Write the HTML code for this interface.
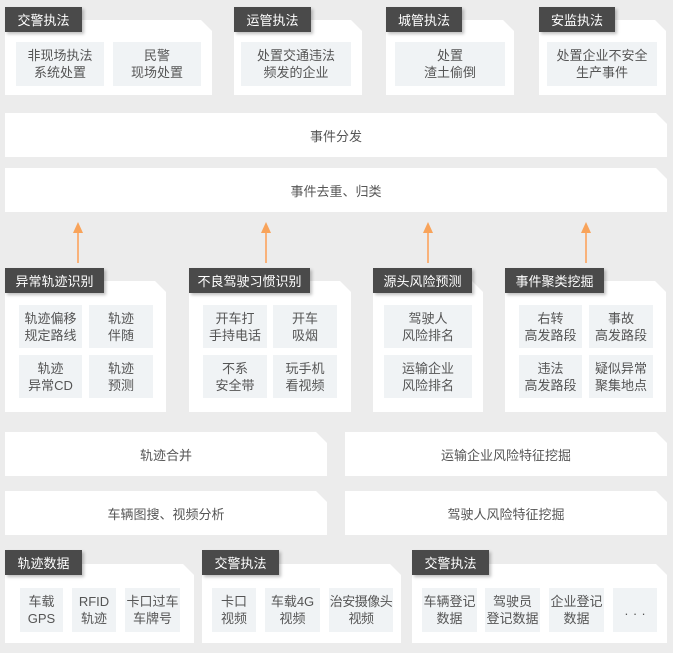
<!DOCTYPE html>
<html><head><meta charset="utf-8"><style>
*{margin:0;padding:0;box-sizing:border-box}
body{width:673px;height:653px;background:#ececec;position:relative;overflow:hidden;font-family:"Liberation Sans","Noto Sans CJK SC",sans-serif;color:#555;font-size:13px}
.p{position:absolute;background:#fff;clip-path:polygon(0 0,calc(100% - 11px) 0,100% 11px,100% 100%,0 100%)}
.r{position:absolute;background:#fff;clip-path:polygon(0 0,calc(100% - 11px) 0,100% 11px,100% 100%,0 100%);display:flex;align-items:center;justify-content:center;font-size:13px;color:#555}
.t{position:absolute;background:#4a4a4a;color:#fff;font-size:13px;display:flex;align-items:center;justify-content:center;height:25px;box-shadow:2px 2px 3px rgba(0,0,0,0.25);white-space:nowrap}
.c{position:absolute;background:#f0f3f5;display:flex;align-items:center;justify-content:center;text-align:center;line-height:17px;font-size:13px;color:#555;white-space:nowrap}
.a{position:absolute;width:2px;background:#f9b27a}
.h{position:absolute;width:0;height:0;border-left:5px solid transparent;border-right:5px solid transparent;border-bottom:11px solid #f8a35a}
</style></head><body>
<!-- top -->
<div class="p" style="left:5px;top:20px;width:207px;height:75px"></div>
<div class="t" style="left:5px;top:7px;width:77px">交警执法</div>
<div class="c" style="left:16px;top:42px;width:88px;height:44px">非现场执法<br>系统处置</div>
<div class="c" style="left:113px;top:42px;width:88px;height:44px">民警<br>现场处置</div>

<div class="p" style="left:234px;top:20px;width:128px;height:75px"></div>
<div class="t" style="left:234px;top:7px;width:77px">运管执法</div>
<div class="c" style="left:241px;top:42px;width:110px;height:44px">处置交通违法<br>频发的企业</div>

<div class="p" style="left:386px;top:20px;width:128px;height:75px"></div>
<div class="t" style="left:386px;top:7px;width:76px">城管执法</div>
<div class="c" style="left:395px;top:42px;width:110px;height:44px">处置<br>渣土偷倒</div>

<div class="p" style="left:539px;top:20px;width:127px;height:75px"></div>
<div class="t" style="left:539px;top:7px;width:76px">安监执法</div>
<div class="c" style="left:547px;top:42px;width:110px;height:44px">处置企业不安全<br>生产事件</div>

<div class="r" style="left:5px;top:113px;width:662px;height:44px">事件分发</div>
<div class="r" style="left:5px;top:168px;width:662px;height:44px">事件去重、归类</div>

<!-- arrows -->
<div class="a" style="left:77px;top:230px;height:33px"></div><div class="h" style="left:73px;top:222px"></div>
<div class="a" style="left:265px;top:230px;height:33px"></div><div class="h" style="left:261px;top:222px"></div>
<div class="a" style="left:427px;top:230px;height:33px"></div><div class="h" style="left:423px;top:222px"></div>
<div class="a" style="left:585px;top:230px;height:33px"></div><div class="h" style="left:581px;top:222px"></div>

<!-- middle -->
<div class="p" style="left:5px;top:281px;width:161px;height:131px"></div>
<div class="t" style="left:5px;top:268px;width:99px">异常轨迹识别</div>
<div class="c" style="left:19px;top:305px;width:63px;height:43px">轨迹偏移<br>规定路线</div>
<div class="c" style="left:89px;top:305px;width:64px;height:43px">轨迹<br>伴随</div>
<div class="c" style="left:19px;top:355px;width:63px;height:43px">轨迹<br>异常CD</div>
<div class="c" style="left:89px;top:355px;width:64px;height:43px">轨迹<br>预测</div>

<div class="p" style="left:189px;top:281px;width:162px;height:131px"></div>
<div class="t" style="left:189px;top:268px;width:121px">不良驾驶习惯识别</div>
<div class="c" style="left:203px;top:305px;width:64px;height:43px">开车打<br>手持电话</div>
<div class="c" style="left:273px;top:305px;width:64px;height:43px">开车<br>吸烟</div>
<div class="c" style="left:203px;top:355px;width:64px;height:43px">不系<br>安全带</div>
<div class="c" style="left:273px;top:355px;width:64px;height:43px">玩手机<br>看视频</div>

<div class="p" style="left:373px;top:281px;width:110px;height:131px"></div>
<div class="t" style="left:373px;top:268px;width:99px">源头风险预测</div>
<div class="c" style="left:384px;top:305px;width:88px;height:43px">驾驶人<br>风险排名</div>
<div class="c" style="left:384px;top:355px;width:88px;height:43px">运输企业<br>风险排名</div>

<div class="p" style="left:505px;top:281px;width:161px;height:131px"></div>
<div class="t" style="left:505px;top:268px;width:99px">事件聚类挖掘</div>
<div class="c" style="left:519px;top:305px;width:63px;height:43px">右转<br>高发路段</div>
<div class="c" style="left:589px;top:305px;width:64px;height:43px">事故<br>高发路段</div>
<div class="c" style="left:519px;top:355px;width:63px;height:43px">违法<br>高发路段</div>
<div class="c" style="left:589px;top:355px;width:64px;height:43px">疑似异常<br>聚集地点</div>

<div class="r" style="left:5px;top:432px;width:322px;height:44px">轨迹合并</div>
<div class="r" style="left:345px;top:432px;width:322px;height:44px">运输企业风险特征挖掘</div>
<div class="r" style="left:5px;top:491px;width:322px;height:44px">车辆图搜、视频分析</div>
<div class="r" style="left:345px;top:491px;width:322px;height:44px">驾驶人风险特征挖掘</div>

<!-- bottom -->
<div class="p" style="left:5px;top:564px;width:189px;height:79px"></div>
<div class="t" style="left:5px;top:550px;width:77px">轨迹数据</div>
<div class="c" style="left:20px;top:588px;width:43px;height:44px">车载<br>GPS</div>
<div class="c" style="left:72px;top:588px;width:44px;height:44px">RFID<br>轨迹</div>
<div class="c" style="left:125px;top:588px;width:55px;height:44px">卡口过车<br>车牌号</div>

<div class="p" style="left:202px;top:564px;width:199px;height:79px"></div>
<div class="t" style="left:202px;top:550px;width:77px">交警执法</div>
<div class="c" style="left:212px;top:588px;width:44px;height:44px">卡口<br>视频</div>
<div class="c" style="left:265px;top:588px;width:55px;height:44px">车载4G<br>视频</div>
<div class="c" style="left:329px;top:588px;width:64px;height:44px;letter-spacing:-0.5px">治安摄像头<br>视频</div>

<div class="p" style="left:412px;top:564px;width:255px;height:79px"></div>
<div class="t" style="left:412px;top:550px;width:77px">交警执法</div>
<div class="c" style="left:422px;top:588px;width:55px;height:44px">车辆登记<br>数据</div>
<div class="c" style="left:485px;top:588px;width:55px;height:44px">驾驶员<br>登记数据</div>
<div class="c" style="left:549px;top:588px;width:55px;height:44px">企业登记<br>数据</div>
<div class="c" style="left:613px;top:588px;width:44px;height:44px;letter-spacing:5px;padding-left:5px">...</div>
</body></html>
